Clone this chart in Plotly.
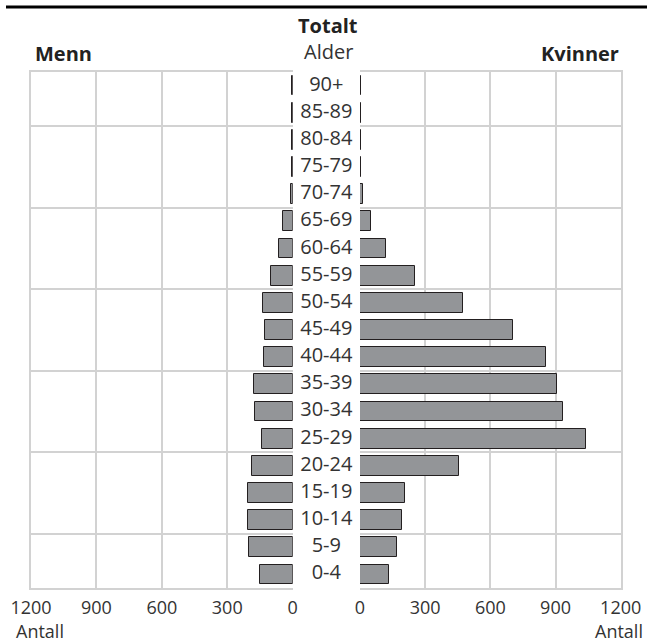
import plotly.graph_objects as go

# Age groups, bottom (0-4) to top (90+)
ages = ["0-4", "5-9", "10-14", "15-19", "20-24", "25-29", "30-34", "35-39",
        "40-44", "45-49", "50-54", "55-59", "60-64", "65-69", "70-74",
        "75-79", "80-84", "85-89", "90+"]
men = [152, 199, 205, 207, 188, 142, 173, 176, 131, 125, 134, 99, 63, 43, 9,
       4, 4, 4, 3]
women = [135, 172, 195, 209, 457, 1039, 936, 905, 855, 703, 476, 253, 118, 52,
         15, 5, 5, 5, 4]
x_ticks = [0, 300, 600, 900, 1200]
x_tick_text = ["0", "300", "600", "900", "1200"]
row_grid = [1.5, 4.5, 7.5, 10.5, 13.5, 16.5]

pos = list(range(len(ages)))

FONT = "Open Sans"
GRID = "#d2d2d2"
BAR = "#939598"
EDGE = "#231f20"
TXT = "#333333"

fig = go.Figure()
fig.add_trace(go.Bar(y=pos, x=men, orientation="h", xaxis="x", yaxis="y",
                     marker=dict(color=BAR, line=dict(color=EDGE, width=1)),
                     width=0.73, name="Menn", hoverinfo="x+text", text=ages,
                     textposition="none"))
fig.add_trace(go.Bar(y=pos, x=women, orientation="h", xaxis="x2", yaxis="y2",
                     marker=dict(color=BAR, line=dict(color=EDGE, width=1)),
                     width=0.73, name="Kvinner", hoverinfo="x+text", text=ages,
                     textposition="none"))
fig.add_trace(go.Scatter(y=pos, x=[0.5] * len(ages), text=ages, mode="text",
                         xaxis="x3", yaxis="y3", hoverinfo="skip",
                         textfont=dict(family=FONT, size=20, color=TXT)))

L0, L1 = 31 / 647, 292.7 / 647
R0, R1 = 360 / 647, 620.7 / 647

xcommon = dict(range=[0, 1200], tickvals=x_ticks, ticktext=x_tick_text,
               showgrid=True, gridcolor=GRID, gridwidth=2,
               zeroline=True, zerolinecolor="rgba(0,0,0,0)", zerolinewidth=2,
               showline=True, linecolor=GRID, linewidth=2, mirror=True,
               ticks="", ticklabelstandoff=2, automargin=False,
               tickfont=dict(family=FONT, size=18, color=TXT), fixedrange=True)
ycommon = dict(range=[-0.5, 18.5], tickvals=row_grid, showticklabels=False,
               showgrid=True, gridcolor=GRID, gridwidth=2, zeroline=False,
               showline=True, linecolor=GRID, linewidth=2, ticks="",
               automargin=False, fixedrange=True)

fig.update_layout(
    width=647, height=644,
    margin=dict(l=0, r=0, t=72, b=56, autoexpand=False),
    paper_bgcolor="white", plot_bgcolor="rgba(0,0,0,0)",
    showlegend=False, bargap=0,
    xaxis=dict(domain=[L0, L1], **{**xcommon, "range": [1200, 0]}),
    yaxis=dict(anchor="x", side="left", **ycommon),
    xaxis2=dict(domain=[R0, R1], anchor="y2", **xcommon),
    yaxis2=dict(anchor="x2", side="right", **ycommon),
    xaxis3=dict(domain=[L1, R0], range=[0, 1], anchor="y3", visible=False,
                automargin=False, fixedrange=True),
    yaxis3=dict(anchor="x3", range=[-0.5, 18.5], visible=False,
                automargin=False, fixedrange=True),
    font=dict(family=FONT, color=TXT),
)

def py(p):
    return (588 - p) / 516

ann = [
    dict(text="<b>Totalt</b>", x=328 / 647, y=py(25), xanchor="center", size=20, color="#222222"),
    dict(text="Alder", x=328 / 647, y=py(52), xanchor="center", size=20, color=TXT),
    dict(text="<b>Menn</b>", x=33 / 647, y=py(54), xanchor="left", size=20, color="#222222"),
    dict(text="<b>Kvinner</b>", x=621 / 647, y=py(54), xanchor="right", size=20, color="#222222"),
    dict(text="Antall", x=14 / 647, y=py(631), xanchor="left", size=18, color=TXT),
    dict(text="Antall", x=645 / 647, y=py(631), xanchor="right", size=18, color=TXT),
]
for a in ann:
    fig.add_annotation(text=a["text"], x=a["x"], y=a["y"], xref="paper", yref="paper",
                       xanchor=a["xanchor"], yanchor="middle", showarrow=False,
                       font=dict(family=FONT, size=a["size"], color=a["color"]))

fig.add_shape(type="line", xref="paper", yref="paper", x0=6 / 647, x1=1,
              y0=py(7), y1=py(7), line=dict(color="black", width=3))

fig.write_html("out.html",
               config={"displayModeBar": False},
               post_script="document.body.style.margin='0px';"
                           "document.body.style.overflow='hidden';")
